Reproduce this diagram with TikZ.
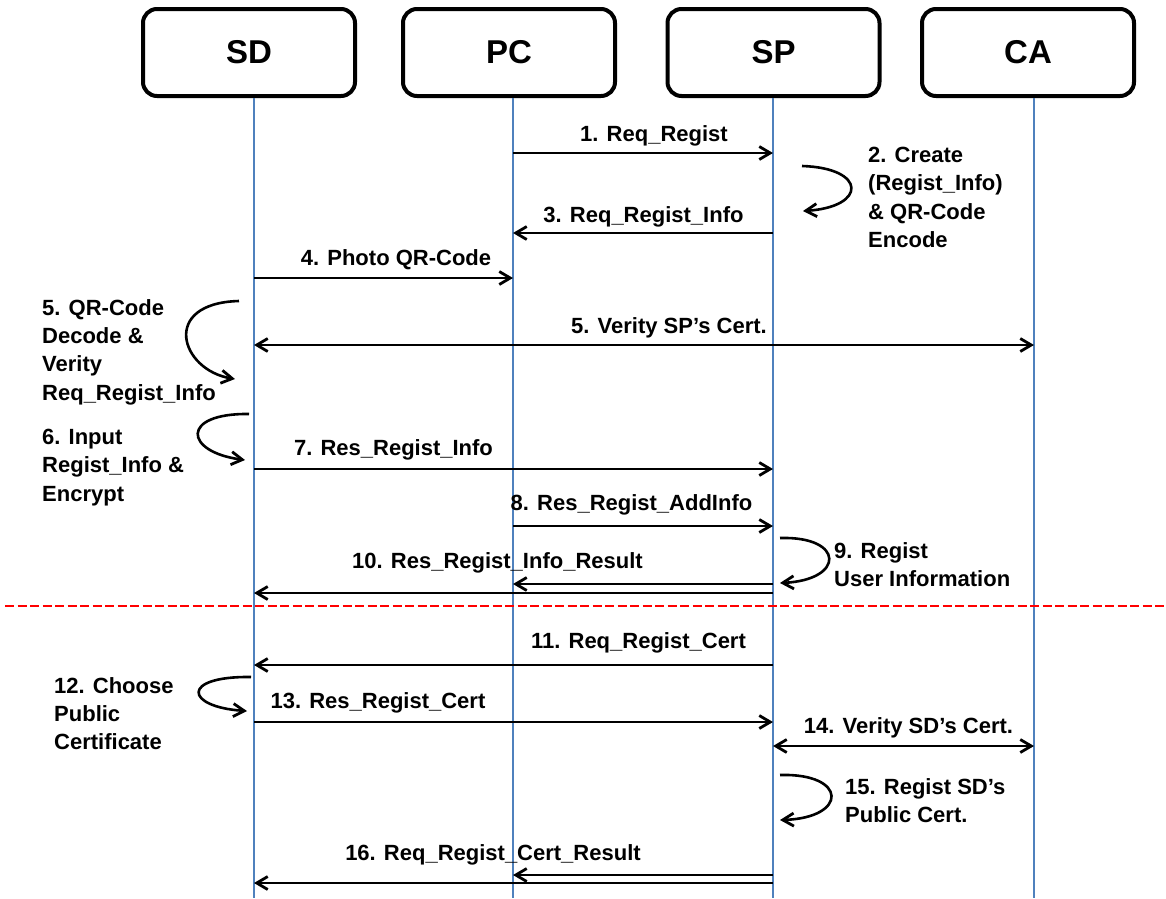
\documentclass[tikz,border=0pt]{standalone}
\usepackage{fontspec}
\setmainfont{Liberation Sans}
\usetikzlibrary{arrows.meta}
\definecolor{lifeblue}{HTML}{4F81BD}
\begin{document}
\begin{tikzpicture}[x=1pt,y=-1pt,
  actor/.style={draw, line width=4pt, rounded corners=14pt, minimum width=212pt,
    minimum height=87pt, inner sep=0pt, font=\fontsize{33}{33}\selectfont\bfseries},
  life/.style={draw=lifeblue, line width=2.5pt},
  tipbarb/.tip={Straight Barb[length=11pt,width=13pt,line width=2.8pt]},
  msg/.style={line width=2.8pt, -tipbarb},
  dmsg/.style={line width=2.8pt, tipbarb-tipbarb},
  selfarr/.style={line width=2.6pt, -tipbarb},
  lbl/.style={anchor=base, inner sep=0pt, font=\fontsize{22}{28.3}\selectfont\bfseries},
  note/.style={anchor=north west, align=left, inner sep=0pt, font=\fontsize{22}{28.3}\selectfont\bfseries},
  sep/.style={draw=red, line width=2.8pt, dash pattern=on 9pt off 3.5pt}
]
\useasboundingbox[fill=white] (0,0) rectangle (1166,898);

% actors
\node[actor] (SD) at (249,52.5) {SD};
\node[actor] (PC) at (509,52.5) {PC};
\node[actor] (SP) at (773.5,52.5) {SP};
\node[actor] (CA) at (1028,52.5) {CA};

% lifelines
\coordinate (SDt) at (254,98);  \coordinate (SDb) at (254,898);
\coordinate (PCt) at (513,98);  \coordinate (PCb) at (513,898);
\coordinate (SPt) at (773,98);  \coordinate (SPb) at (773,898);
\coordinate (CAt) at (1034,98); \coordinate (CAb) at (1034,898);
\draw[life] (SDt) -- (SDb);
\draw[life] (PCt) -- (PCb);
\draw[life] (SPt) -- (SPb);
\draw[life] (CAt) -- (CAb);

% message end points
\coordinate (a1) at (513,153);  \coordinate (b1) at (773,153);
\coordinate (a3) at (773,233);  \coordinate (b3) at (513,233);
\coordinate (a4) at (254,278);  \coordinate (b4) at (513,278);
\coordinate (a5) at (254,345);  \coordinate (b5) at (1034,345);
\coordinate (a7) at (254,469);  \coordinate (b7) at (773,469);
\coordinate (a8) at (513,526);  \coordinate (b8) at (773,526);
\coordinate (a10) at (773,584); \coordinate (b10) at (513,584);
\coordinate (c10) at (773,593); \coordinate (d10) at (254,593);
\coordinate (a11) at (773,665); \coordinate (b11) at (254,665);
\coordinate (a13) at (254,722); \coordinate (b13) at (773,722);
\coordinate (a14) at (773,746); \coordinate (b14) at (1034,746);
\coordinate (a16) at (773,875); \coordinate (b16) at (513,875);
\coordinate (c16) at (773,883); \coordinate (d16) at (254,883);

\draw[msg] (a1) -- (b1);
\draw[msg] (a3) -- (b3);
\draw[msg] (a4) -- (b4);
\draw[dmsg] (a5) -- (b5);
\draw[msg] (a7) -- (b7);
\draw[msg] (a8) -- (b8);
\draw[msg] (a10) -- (b10);
\draw[msg] (c10) -- (d10);
\draw[msg] (a11) -- (b11);
\draw[msg] (a13) -- (b13);
\draw[dmsg] (a14) -- (b14);
\draw[msg] (a16) -- (b16);
\draw[msg] (c16) -- (d16);

% message labels
\node[lbl] (l1) at (654,141) {1. Req\_Regist};
\node[lbl] (l3) at (643.5,222) {3. Req\_Regist\_Info};
\node[lbl] (l4) at (396,265) {4. Photo QR-Code};
\node[lbl] (l5) at (669,333) {5. Verity SP’s Cert.};
\node[lbl] (l7) at (393.5,455) {7. Res\_Regist\_Info};
\node[lbl] (l8) at (631.5,510) {8. Res\_Regist\_AddInfo};
\node[lbl] (l10) at (497.5,568) {10. Res\_Regist\_Info\_Result};
\node[lbl] (l11) at (638.5,648) {11. Req\_Regist\_Cert};
\node[lbl] (l13) at (378,708) {13. Res\_Regist\_Cert};
\node[lbl] (l14) at (908.5,733) {14. Verity SD’s Cert.};
\node[lbl] (l16) at (493,860) {16. Req\_Regist\_Cert\_Result};

% self actions
\coordinate (s2a) at (802,166); \coordinate (s2b) at (803,211);
\draw[selfarr] (s2a) .. controls (867,168) and (867,207) .. (s2b);
\coordinate (s5a) at (239,301); \coordinate (s5b) at (235,379);
\draw[selfarr] (s5a) .. controls (160,303) and (180,370) .. (s5b);
\coordinate (s6a) at (249,414); \coordinate (s6b) at (245,460);
\draw[selfarr] (s6a) .. controls (180,413) and (184,452) .. (s6b);
\coordinate (s9a) at (780,538); \coordinate (s9b) at (780,583);
\draw[selfarr] (s9a) .. controls (845,536) and (845,580) .. (s9b);
\coordinate (s12a) at (251,677); \coordinate (s12b) at (247,711);
\draw[selfarr] (s12a) .. controls (180,676) and (185,707) .. (s12b);
\coordinate (s15a) at (780,775); \coordinate (s15b) at (780,820);
\draw[selfarr] (s15a) .. controls (848,773) and (848,818) .. (s15b);

% notes
\node[note] (n2) at (868,147) {2. Create\\(Regist\_Info)\\\& QR-Code\\Encode};
\node[note] (n5) at (42,299) {5. QR-Code\\Decode \&\\Verity\\Req\_Regist\_Info};
\node[note] (n6) at (42,429) {6. Input\\Regist\_Info \&\\Encrypt};
\node[note] (n9) at (834,542) {9. Regist\\User Information};
\node[note] (n12) at (54,677) {12. Choose\\Public\\Certificate};
\node[note] (n15) at (845,778) {15. Regist SD’s\\Public Cert.};

% separator
\coordinate (sepL) at (5,606); \coordinate (sepR) at (1166,606);
\draw[sep] (sepL) -- (sepR);
\end{tikzpicture}
\end{document}
